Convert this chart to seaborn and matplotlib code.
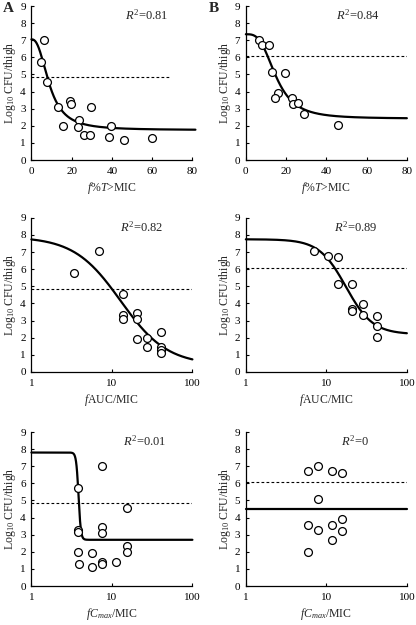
import numpy as np
import pandas as pd
import matplotlib
matplotlib.use("Agg")
import matplotlib.pyplot as plt
import seaborn as sns

# ---------------- data ----------------
# Column A (top: f%T>MIC, middle: fAUC/MIC, bottom: fCmax/MIC)
A_t_x = [6.3, 4.8, 7.9, 13.1, 19.4, 19.7, 15.7, 23.5, 23.2, 26.0, 29.3, 29.5, 38.7, 39.4, 46.2, 59.8]
A_t_y = [7.0, 5.75, 4.56, 3.1, 3.42, 3.25, 2.0, 2.33, 1.94, 1.45, 1.45, 3.1, 1.33, 2.0, 1.15, 1.31]
A_auc_x = [3.43, 6.82, 13.7, 13.7, 13.7, 20.7, 20.7, 20.3, 27.0, 27.0, 40.7, 40.7, 40.7, 40.7]
A_auc_y = [5.77, 7.05, 4.57, 3.35, 3.07, 3.44, 3.09, 1.91, 1.99, 1.48, 2.34, 1.45, 1.25, 1.1]
A_cmax_x = [7.5, 3.79, 3.79, 3.79, 3.79, 3.94, 5.73, 5.73, 7.5, 7.5, 7.5, 7.5, 11.4, 15.4, 15.4, 15.4]
A_cmax_y = [6.99, 5.73, 3.27, 3.13, 2.0, 1.27, 1.9, 1.12, 3.42, 3.07, 1.43, 1.27, 1.41, 4.54, 2.35, 2.0]

# Column B
B_t_x = [6.7, 7.8, 11.5, 13.0, 19.3, 15.8, 14.5, 23.0, 23.3, 25.8, 28.7, 45.8]
B_t_y = [6.99, 6.7, 6.74, 5.13, 5.11, 3.93, 3.6, 3.64, 3.26, 3.35, 2.68, 2.07]
B_auc_x = [7.07, 10.5, 14.1, 14.1, 21.1, 21.1, 21.1, 28.3, 28.3, 42.2, 42.2, 42.2]
B_auc_y = [7.05, 6.79, 6.71, 5.15, 5.15, 3.66, 3.58, 3.95, 3.35, 3.27, 2.70, 2.02]
B_cmax_x = [5.91, 7.88, 11.65, 15.7, 7.88, 5.91, 7.88, 11.65, 15.7, 15.7, 11.65, 5.91]
B_cmax_y = [6.72, 6.99, 6.72, 6.62, 5.10, 3.59, 3.30, 3.54, 3.89, 3.20, 2.66, 1.97]

# sigmoid Emax fit parameters: [E0, Emin, EC50, Hill]
A_t_fit = [7.05, 1.75, 9.0, 2.5]
A_auc_fit = [7.9, 0.4, 12.85, 1.5]
A_cmax_fit = [7.8, 2.7, 3.85, 30.0]
B_t_fit = [7.35, 2.42, 15.0, 3.2]
B_auc_fit = [7.75, 2.2, 17.5, 2.6]
B_cmax_fit = [4.52, 4.52, 10.0, 1.0]

# stasis (dashed) levels
A_stasis = 4.85
B_stasis = 6.05

R2_labels = ["0.81", "0.84", "0.82", "0.89", "0.01", "0"]
x_labels = [r"$f$%$T$>MIC", r"$f$AUC/MIC", r"$fC_{max}$/MIC"]
y_label = r"Log$_{10}$ CFU/thigh"
y_ticks = list(range(0, 10))

# ---------------- style ----------------
sns.set_theme(style="ticks")
plt.rcParams["font.family"] = ["Liberation Serif", "DejaVu Serif"]
plt.rcParams["mathtext.fontset"] = "custom"
plt.rcParams["mathtext.rm"] = "Liberation Serif"
plt.rcParams["mathtext.it"] = "Liberation Serif:italic"
plt.rcParams["mathtext.bf"] = "Liberation Serif:bold"

fig = plt.figure(figsize=(4.16, 6.25), dpi=100)

W = 0.387
H = 0.2464
lefts = [0.0755, 0.591]
bottoms = [0.744, 0.405, 0.0624]


def emax(x, p):
    e0, emin, ec, h = p
    x = np.asarray(x, dtype=float)
    return emin + (e0 - emin) / (1.0 + (x / ec) ** h)


panels = [
    (0, 0, A_t_x, A_t_y, A_t_fit, A_stasis, False, R2_labels[0], (0.0, 69.0), (0.0, 81.5), 0.58),
    (0, 1, B_t_x, B_t_y, B_t_fit, B_stasis, False, R2_labels[1], (0.0, 80.0), (0.0, 80.0), 0.56),
    (1, 0, A_auc_x, A_auc_y, A_auc_fit, A_stasis, True, R2_labels[2], (1.0, 100.0), (1.0, 100.0), 0.55),
    (1, 1, B_auc_x, B_auc_y, B_auc_fit, B_stasis, True, R2_labels[3], (1.0, 100.0), (1.0, 100.0), 0.55),
    (2, 0, A_cmax_x, A_cmax_y, A_cmax_fit, A_stasis, True, R2_labels[4], (1.0, 100.0), (1.0, 100.0), 0.57),
    (2, 1, B_cmax_x, B_cmax_y, B_cmax_fit, B_stasis, True, R2_labels[5], (1.0, 100.0), (1.0, 100.0), 0.59),
]

for row, col, xs, ys, fit, stasis, logx, r2, dash_rng, curve_rng, r2x in panels:
    ax = fig.add_axes([lefts[col], bottoms[row], W, H])
    if logx:
        grid = np.logspace(np.log10(curve_rng[0]), np.log10(curve_rng[1]), 600)
    else:
        grid = np.linspace(curve_rng[0], curve_rng[1], 600)
    curve = pd.DataFrame({"x": grid, "y": emax(grid, fit)})
    sns.lineplot(data=curve, x="x", y="y", ax=ax, color="black", lw=1.6,
                 zorder=2, clip_on=False)
    dash = pd.DataFrame({"x": list(dash_rng), "y": [stasis, stasis]})
    sns.lineplot(data=dash, x="x", y="y", ax=ax, color="black", lw=0.8,
                 linestyle=(0, (2.5, 2)), zorder=1)
    pts = pd.DataFrame({"x": xs, "y": ys})
    sns.scatterplot(data=pts, x="x", y="y", ax=ax, s=32, facecolor="white",
                    edgecolor="black", linewidth=0.9, zorder=3)

    if logx:
        ax.set_xscale("log")
        ax.set_xlim(1, 100)
        ax.set_xticks([1, 10, 100])
        ax.set_xticklabels(["1", "10", "100"])
        ax.minorticks_off()
    else:
        ax.set_xlim(0, 80)
        ax.set_xticks([0, 20, 40, 60, 80])
    ax.set_ylim(0, 9)
    ax.set_yticks(y_ticks)
    ax.tick_params(direction="in", length=2.5, width=0.8, labelsize=8,
                   colors="black")
    ax.tick_params(axis="y", pad=4)
    ax.tick_params(axis="x", pad=5)
    for s in ["top", "right"]:
        ax.spines[s].set_visible(False)
    for s in ["left", "bottom"]:
        ax.spines[s].set_linewidth(0.9)
        ax.spines[s].set_color("black")
    ax.set_xlabel(x_labels[row], fontsize=8.5, labelpad=3)
    ax.set_ylabel(y_label, fontsize=8.5, labelpad=1.5)
    ax.text(r2x, 0.94, r"$R^2$=" + r2, transform=ax.transAxes, fontsize=9,
            ha="left", va="center")

fig.text(0.008, 0.986, "A", fontsize=11, fontweight="bold", va="center", ha="left")
fig.text(0.503, 0.986, "B", fontsize=11, fontweight="bold", va="center", ha="left")

fig.savefig("out.png", dpi=100)
